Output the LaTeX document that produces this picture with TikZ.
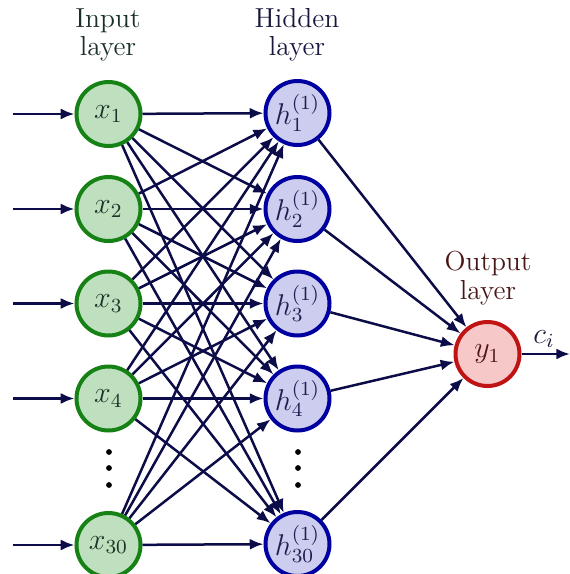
\documentclass[tikz,border=0pt]{standalone}
\usetikzlibrary{arrows.meta}
\definecolor{inFill}{RGB}{190,224,190}
\definecolor{inLine}{RGB}{22,130,22}
\definecolor{inText}{RGB}{28,52,40}
\definecolor{hidFill}{RGB}{205,205,240}
\definecolor{hidLine}{RGB}{0,0,160}
\definecolor{hidText}{RGB}{30,30,80}
\definecolor{outFill}{RGB}{246,200,200}
\definecolor{outLine}{RGB}{192,20,20}
\definecolor{outText}{RGB}{80,22,22}
\definecolor{wire}{RGB}{12,12,72}
\tikzset{
  neuron/.style={circle, minimum size=25.6pt, inner sep=0pt, line width=1.6pt,
    font=\fontsize{11.5}{13.8}\selectfont},
  inneuron/.style={neuron, draw=inLine, fill=inFill, text=inText},
  hidneuron/.style={neuron, draw=hidLine, fill=hidFill, text=hidText},
  outneuron/.style={neuron, draw=outLine, fill=outFill, text=outText},
  wirearrow/.style={draw=wire, line width=1pt, -{Latex[length=5.5pt,width=4.4pt]}},
  layerlabel/.style={align=center, font=\fontsize{11}{11.4}\selectfont},
  dotmark/.style={circle, fill=black, inner sep=0pt, minimum size=2.3pt}
}
\begin{document}
\begin{tikzpicture}[x=0.4pt,y=-0.4pt, font=\fontsize{11.5}{13.8}\selectfont]
\useasboundingbox (0,0) rectangle (570,574);

% layer titles
\node[layerlabel, text={rgb,255:red,25;green,48;blue,40}] (tin) at (108,35) {Input\\layer};
\node[layerlabel, text={rgb,255:red,22;green,22;blue,62}] (thid) at (297,35) {Hidden\\layer};
\node[layerlabel, text={rgb,255:red,72;green,22;blue,22}] (tout) at (488,278) {Output\\layer};

% input layer
\node[inneuron] (x1) at (108.5,114) {$x_1$};
\node[inneuron] (x2) at (108.5,209) {$x_2$};
\node[inneuron] (x3) at (108.5,303.5) {$x_3$};
\node[inneuron] (x4) at (108.5,398.5) {$x_4$};
\node[inneuron] (x5) at (108.5,545) {$x_{30}$};

% hidden layer
\node[hidneuron] (h1) at (297.5,113) {$h^{(1)}_1$};
\node[hidneuron] (h2) at (297.5,209) {$h^{(1)}_2$};
\node[hidneuron] (h3) at (297.5,303.5) {$h^{(1)}_3$};
\node[hidneuron] (h4) at (297.5,398.5) {$h^{(1)}_4$};
\node[hidneuron] (h5) at (297.5,544) {$h^{(1)}_{30}$};

% output layer
\node[outneuron] (y1) at (487.5,354) {$y_1$};

% ellipsis dots
\foreach \i/\yy in {1/452,2/468,3/485} {
  \node[dotmark] (ld\i) at (109,\yy) {};
  \node[dotmark] (hd\i) at (298,\yy) {};
}

% inputs entering the network
\foreach \i/\yy in {1/114,2/209,3/303.5,4/398.5,5/545} {
  \coordinate (src\i) at (13,\yy);
  \draw[wirearrow] (src\i) -- (x\i);
}

% input -> hidden connections
\foreach \i in {1,...,5} {
  \foreach \j in {1,...,5} {
    \draw[wirearrow] (x\i) -- (h\j);
  }
}

% hidden -> output connections
\foreach \j in {1,...,5} {
  \draw[wirearrow] (h\j) -- (y1);
}

% network output
\coordinate (sink) at (570,354);
\draw[wirearrow] (y1) -- (sink);
\node[text={rgb,255:red,30;green,30;blue,60}] (ci) at (544,339) {$c_i$};
\end{tikzpicture}
\end{document}
